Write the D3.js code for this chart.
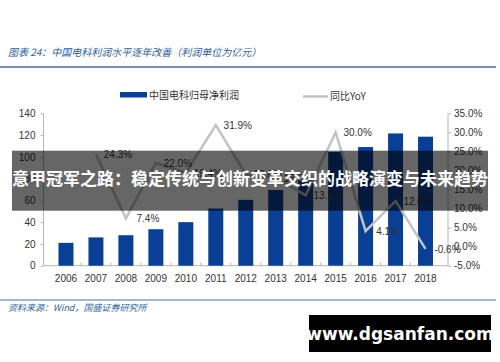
<!DOCTYPE html>
<html lang="zh">
<head>
<meta charset="utf-8">
<title>中国电科利润</title>
<style>
  body, html { margin: 0; padding: 0; background: #fff; }
  svg { display: block; }
  .axis text { font-family: "Liberation Sans", Arial, sans-serif; font-size: 10px; fill: #333; }
  .axis path, .axis line { stroke: #b5b5b5; }
  .cjk { font-family: "Noto Sans CJK SC", sans-serif; }
</style>
<script src="https://d3js.org/d3.v7.min.js"></script>
</head>
<body>
<svg id="chart" width="500" height="362"></svg>
<script>
// data (profit in 亿元, YoY in %)
var years = ["2006","2007","2008","2009","2010","2011","2012","2013","2014","2015","2016","2017","2018"];
var profit = [21, 26, 28, 33.5, 40, 52.5, 60.5, 69.5, 78, 104.5, 109, 121.5, 118.5];
var yoy = [null, 24.3, 7.4, 22.0, 19.4, 31.9, 19.0, 18.0, 13.5, 30.0, 4.1, 12.0, -0.6];
var leftTicks = [0, 20, 40, 60, 80, 100, 120, 140];
var rightTicks = [-5, 0, 5, 10, 15, 20, 25, 30, 35];

var svg = d3.select("#chart");
var barColor = "#0a3f96";
var lineColor = "#c3c3c3";
var blue = "#2f5f9e";

var x = d3.scaleBand().domain(years).range([43.5, 448]).padding(0.5);
var y = d3.scaleLinear().domain([0, 140]).range([265.7, 113.3]);
var y2 = d3.scaleLinear().domain([-5, 35]).range([265.7, 113.3]);

// title + rule
svg.append("text").attr("class", "cjk")
    .attr("x", 8).attr("y", 56)
    .style("font-size", "10px").style("font-style", "italic")
    .style("fill", blue)
    .text("图表 24：中国电科利润水平逐年改善（利润单位为亿元）");
svg.append("line").attr("x1", 0).attr("x2", 496).attr("y1", 67).attr("y2", 67)
    .attr("stroke", "#4b7199").attr("stroke-width", 1.5);

// legend
svg.append("rect").attr("x", 120).attr("y", 92).attr("width", 27).attr("height", 5.5).attr("fill", barColor);
svg.append("text").attr("class", "cjk").attr("x", 149).attr("y", 98.5)
    .style("font-size", "10px").style("fill", "#333").text("中国电科归母净利润");
svg.append("line").attr("x1", 303).attr("x2", 328).attr("y1", 96.5).attr("y2", 96.5)
    .attr("stroke", lineColor).attr("stroke-width", 2.5);
svg.append("text").attr("class", "cjk").attr("x", 330).attr("y", 100)
    .style("font-size", "10px").style("fill", "#333").text("同比YoY");

// axes
svg.append("g").attr("class", "axis")
    .attr("transform", "translate(43.5,0)")
    .call(d3.axisLeft(y).tickValues(leftTicks).tickSize(3).tickPadding(5))
    .call(function(g) { g.select(".domain").attr("d", "M0," + y(140) + "V" + y(0)); });

svg.append("g").attr("class", "axis")
    .attr("transform", "translate(448,0)")
    .call(d3.axisRight(y2).tickValues(rightTicks).tickSize(3).tickPadding(3)
        .tickFormat(function(d) { return d.toFixed(1) + "%"; }))
    .call(function(g) { g.select(".domain").attr("d", "M0," + y2(35) + "V" + y2(-5)); });

var xa = svg.append("g").attr("class", "axis")
    .attr("transform", "translate(0,265.7)")
    .call(d3.axisBottom(x).tickSize(0).tickPadding(9));
xa.select(".domain").attr("d", "M43.5,0H448");
xa.selectAll(".sep").data(years.slice(1)).enter().append("line")
    .attr("x1", function(d) { return x(d) - x.step() * x.paddingInner() / 2 - 0; })
    .attr("x2", function(d) { return x(d) - x.step() * x.paddingInner() / 2 - 0; })
    .attr("y1", 0).attr("y2", -3).attr("stroke", "#b5b5b5");

// bars
svg.append("g").selectAll("rect").data(profit).enter().append("rect")
    .attr("x", function(d, i) { return x(years[i]); })
    .attr("y", function(d) { return y(d); })
    .attr("width", x.bandwidth())
    .attr("height", function(d) { return y(0) - y(d); })
    .attr("fill", barColor);

// yoy line
var pts = yoy.map(function(v, i) { return { year: years[i], v: v }; })
    .filter(function(d) { return d.v !== null; });
var line = d3.line()
    .x(function(d) { return x(d.year) + x.bandwidth() / 2; })
    .y(function(d) { return y2(d.v); });
svg.append("path").datum(pts).attr("d", line)
    .attr("fill", "none").attr("stroke", lineColor).attr("stroke-width", 2.5);

svg.append("g").selectAll("text").data(pts).enter().append("text")
    .attr("x", function(d) { return x(d.year) + x.bandwidth() / 2 + 22; })
    .attr("y", function(d) { return y2(d.v) + 4; })
    .attr("text-anchor", "middle")
    .style("font-family", "Liberation Sans, Arial, sans-serif")
    .style("font-size", "10px").style("fill", "#333")
    .text(function(d) { return d.v.toFixed(1) + "%"; });

// source
svg.append("line").attr("x1", 0).attr("x2", 496).attr("y1", 300).attr("y2", 300)
    .attr("stroke", "#4b7199").attr("stroke-width", 1.2);
svg.append("text").attr("class", "cjk")
    .attr("x", 8).attr("y", 311)
    .style("font-size", "9px").style("font-style", "italic")
    .style("fill", blue)
    .text("资料来源：Wind，国盛证券研究所");

// overlay banner
svg.append("rect").attr("x", 12).attr("y", 150.7).attr("width", 476).attr("height", 60)
    .attr("fill", "rgba(0,0,0,0.6)");
svg.append("text").attr("class", "cjk")
    .attr("x", 250).attr("y", 185).attr("text-anchor", "middle")
    .style("font-size", "17px").style("font-weight", "bold").style("fill", "#fff")
    .text("意甲冠军之路：稳定传统与创新变革交织的战略演变与未来趋势");

// watermark box
svg.append("rect").attr("x", 309).attr("y", 315).attr("width", 182).attr("height", 37).attr("fill", "#000");
svg.append("text")
    .attr("x", 400).attr("y", 340).attr("text-anchor", "middle")
    .style("font-family", "DejaVu Sans, sans-serif")
    .style("font-size", "17px").style("font-weight", "bold").style("fill", "#fff")
    .text("www.dgsanfan.com");
</script>
</body>
</html>
